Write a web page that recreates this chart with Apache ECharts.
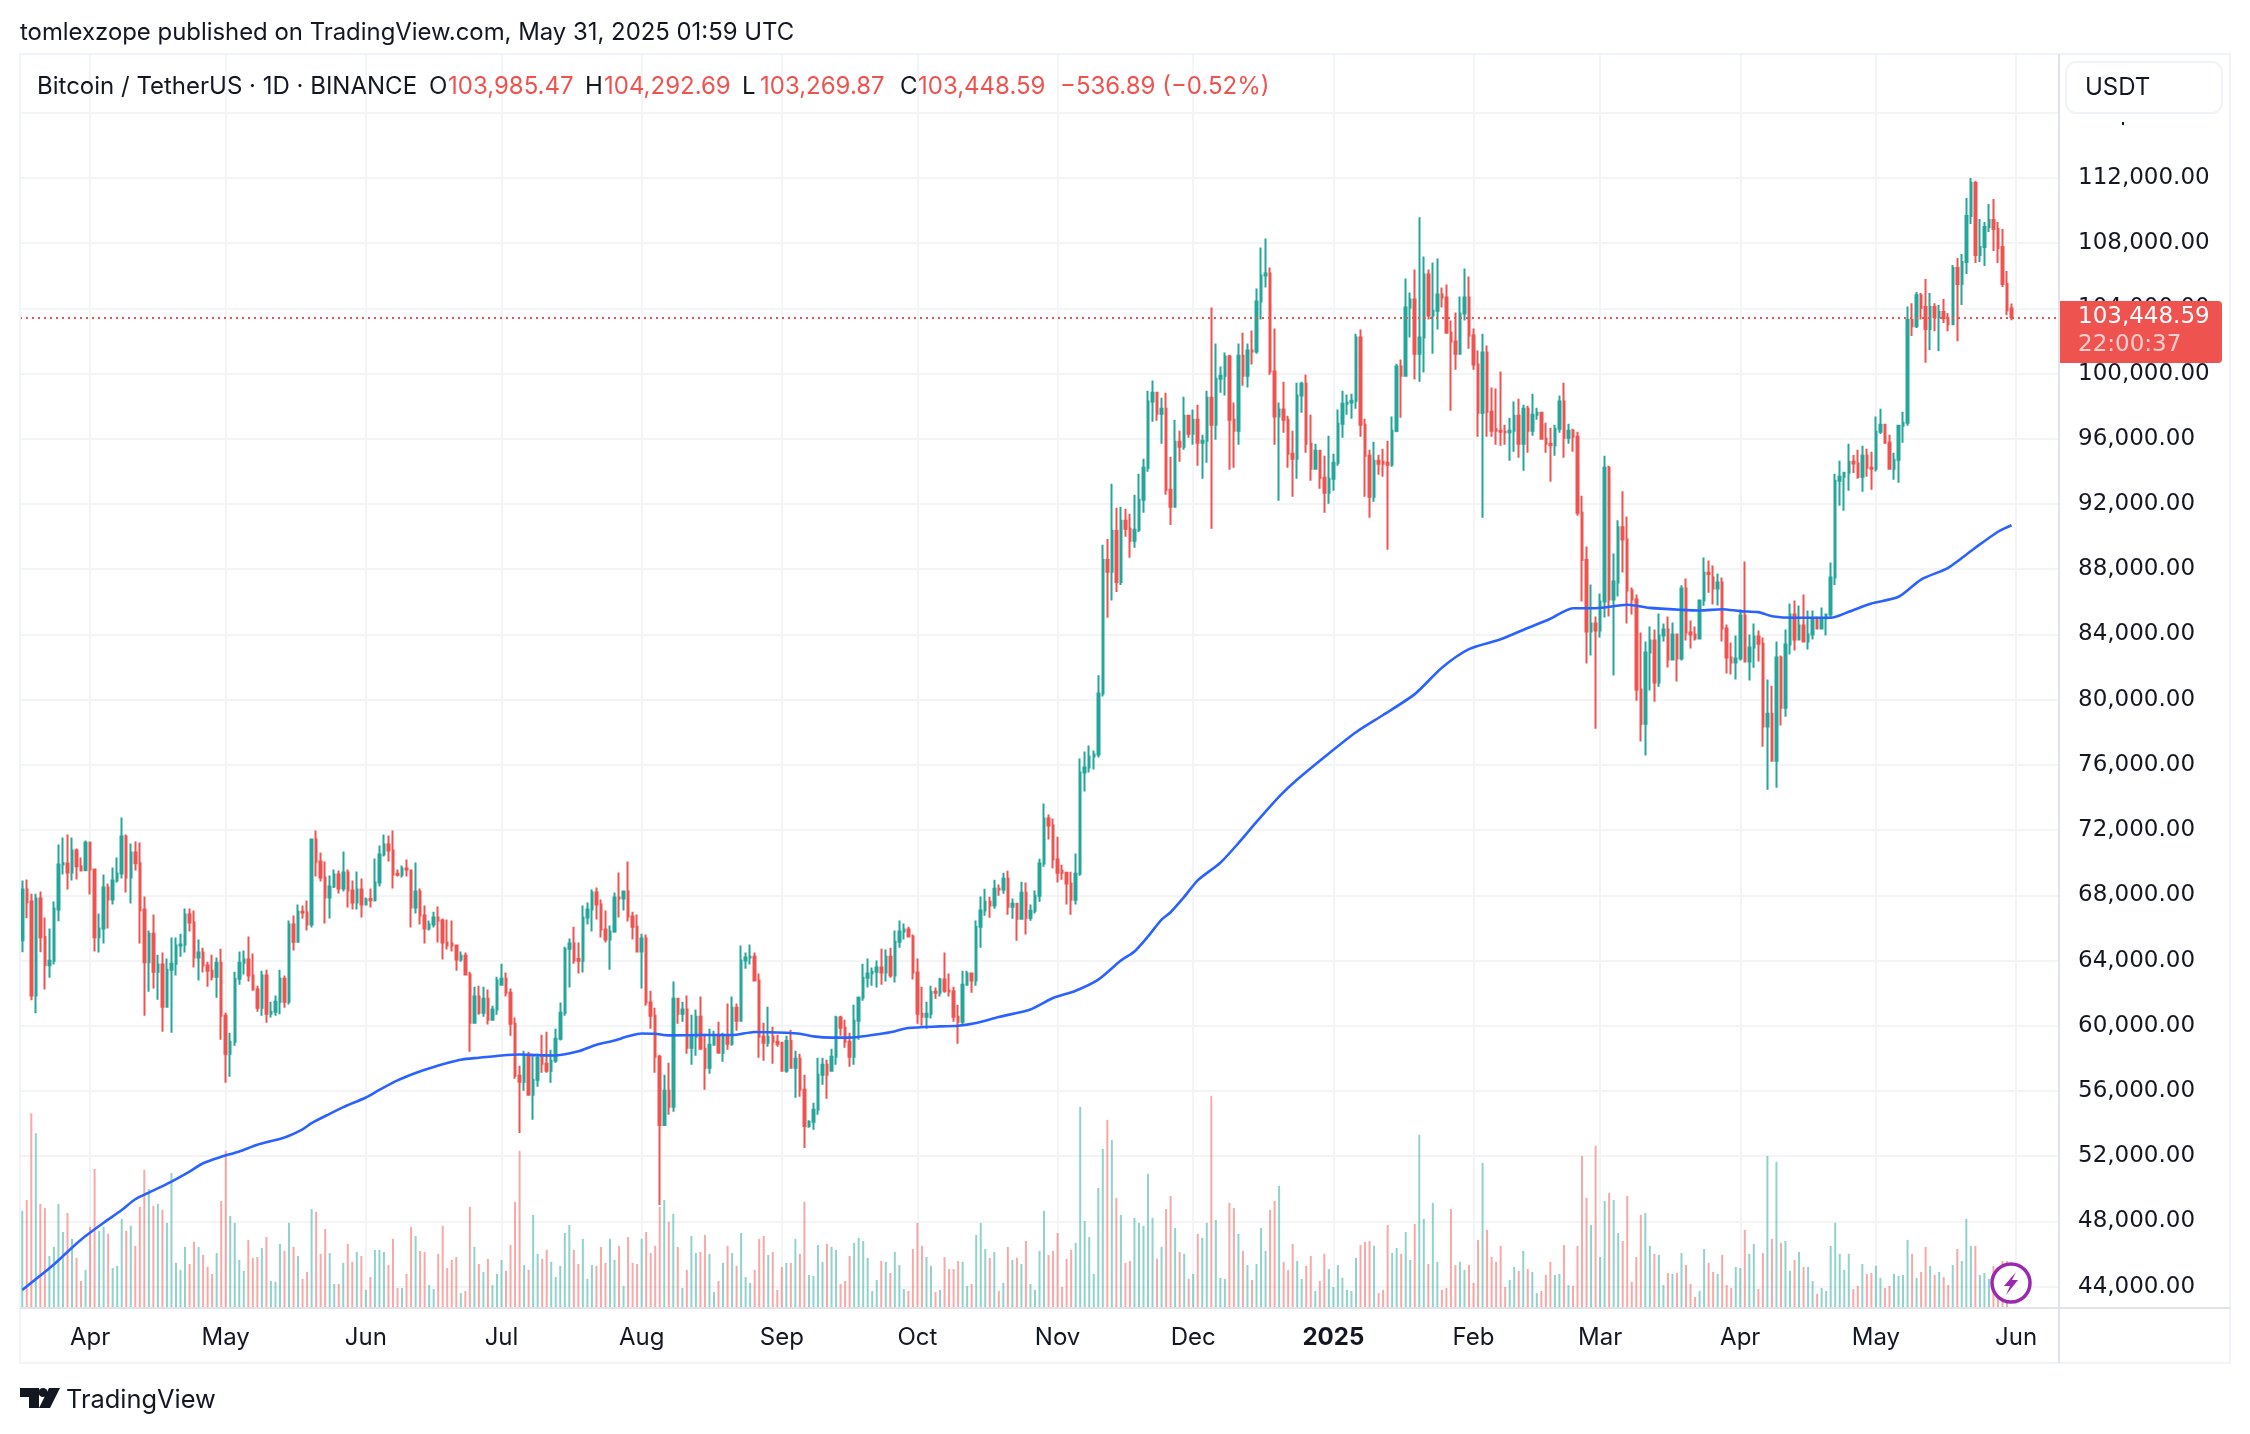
<!DOCTYPE html>
<html>
<head>
<meta charset="utf-8">
<title>BTCUSDT 1D</title>
<script src="https://cdn.jsdelivr.net/npm/echarts@6/dist/echarts.min.js"></script>
<style>
html,body{margin:0;padding:0;background:#fff}
#main{width:2250px;height:1434px}
</style>
</head>
<body>
<div id="main"></div>
<script>
var startDay = Date.UTC(2024, 2, 17);
var dayCount = 451; // 441 candles, then the empty days up to the price scale

// one row per day, from 2024-03-17: open, close, low, high
var ohlc = [
[65250,68360,64510,68910],[68360,67580,66600,68970],[67620,61850,61560,68090],[61850,67800,60760,68090],[67800,65430,64510,68230],[65450,63710,62220,66640],[63710,63980,62950,65960],[63980,67190,63750,67620],[67130,69890,66410,71120],[69890,69990,69280,71550],
[69950,69400,68360,71730],[69400,70750,68910,71550],[70750,69790,68970,70870],[69790,69520,69500,70320],[69540,71220,69500,71370],[71220,69580,68050,71300],[69580,65430,64550,69650],[65430,65960,64490,66880],[65960,68480,65040,69280],[68480,67740,65960,68720],
[67740,68910,67430,69710],[68910,69340,68790,70320],[69340,71610,69030,72780],[71610,69090,68170,71730],[69090,70630,67500,71180],[70630,69970,69520,71300],[69970,67090,65040,71240],[67130,63890,60620,67930],[63890,65650,62090,65840],[65650,63320,62280,66820],
[63320,63750,61600,64360],[63750,61170,59640,64490],[61170,63440,61100,64120],[63440,63810,59570,65410],[63810,64920,63080,65410],[64920,64980,64240,65650],[64980,66820,64490,67190],[66820,66330,65780,67190],[66330,64180,63570,67070],[64180,64490,62770,65290],
[64490,63690,63260,64790],[63690,63380,62400,63930],[63380,63010,62770,64360],[63010,63870,61720,64180],[63870,60620,59140,64730],[60620,58290,56500,60800],[58290,59020,56870,59570],[59020,62890,58780,63320],[62890,63870,62520,64550],[63870,64060,63140,64610],
[64060,63080,62710,65470],[63080,62220,62150,64430],[62220,61110,60860,62460],[61110,63080,60620,63380],[63080,60740,60190,63440],[60740,60860,60500,61480],[60860,61480,60620,61850],[61480,62890,60700,63440],[62890,61480,61110,63080],[61480,66210,61300,66450],
[66210,65160,64610,66760],[65160,67000,65100,67430],[67000,66940,66580,67370],[66940,66210,65840,67680],[66210,71430,66020,71490],[71430,70080,69150,71980],[70080,69090,68850,70630],[69090,67860,66270,70080],[67860,68540,66580,69220],[68540,69280,68450,69580],
[69280,68420,68110,69520],[68420,69400,68230,70690],[69400,68300,67250,69580],[68300,67560,67130,68910],[67560,68360,67130,69460],[68360,67430,66640,69030],[67430,67740,67400,67860],[67780,67700,67250,68420],[67700,68790,67620,70260],[68790,70510,68540,71060],
[70510,71120,70380,71730],[71120,70750,70080,71670],[70750,69280,68420,71980],[69320,69260,69150,69580],[69260,69650,69090,69830],[69650,69580,69150,70200],[69520,67250,66020,69580],[67250,68230,66880,70010],[68230,66760,66210,68420],[66760,65960,65040,67370],
[65960,66210,65840,66450],[66210,66640,66020,67000],[66640,66450,65100,67310],[66450,65100,64060,66580],[65100,64920,64670,66520],[65040,64920,64550,66450],[64920,64060,63380,64980],[64060,64300,63930,64550],[64300,63140,63100,64490],[63140,60190,58410,63320],
[60190,61790,60150,62400],[61790,60800,60680,62460],[60800,61660,60560,62400],[61660,60370,60070,62220],[60370,60990,60340,61230],[60990,62770,60680,63010],[62520,62890,62460,63810],[62890,62030,61790,63260],[62030,60130,59390,62280],[60130,56930,56750,60500],
[56930,56560,53430,57550],[56560,58220,56010,58470],[58220,55770,55710,58410],[55770,56690,54230,58220],[56690,58040,56260,58290],[58040,57670,57120,59450],[57670,57240,57120,59640],[57240,57860,56500,58530],[57860,59210,57730,59820],[59210,60800,59100,61420],
[60800,64730,60620,64840],[64730,65040,62340,65350],[65040,64000,63810,66080],[64100,63980,63200,65100],[63980,66640,63260,67370],[66640,67130,66210,67560],[67130,68170,65780,68360],[68170,67430,66510,68480],[67430,65900,65410,67740],[65900,65290,65100,67070],
[65290,65780,63440,66150],[65780,67860,65700,68170],[67860,67800,66640,69400],[67800,68230,67070,68300],[68230,66700,66390,70080],[66700,66080,65290,67000],[66080,64550,64490,66820],[64550,65350,62280,65650],[65350,61420,61230,65590],[61420,60620,59820,62150],
[60620,58100,57120,61110],[58100,53920,49000,58220],[53920,56010,53900,57000],[56010,55030,54540,57730],[55030,61660,54720,62710],[61660,60740,60130,61720],[60740,60990,60250,61480],[60990,58650,58290,61850],[58650,59330,57610,60680],[59330,60560,58160,60990],
[60560,58590,58530,61790],[58590,57420,56070,59510],[57420,58840,57060,59820],[58840,59390,58780,59700],[59390,58350,58300,60250],[58350,59390,57790,59570],[59390,58900,58530,61360],[58900,61110,58780,61790],[61110,60310,59700,61360],[60310,64000,60280,64920],
[64000,64180,63500,64490],[64180,64240,63750,64980],[64240,62770,62740,64490],[62770,59330,58040,63200],[59330,58960,57860,60190],[58960,59330,58720,61170],[59330,59020,57670,59940],[59020,58900,58720,59450],[58960,57240,57180,59020],[57240,59080,57120,59390],
[59080,57420,57360,59760],[57420,57980,55580,58470],[57980,56070,55640,58290],[56070,53860,52510,57000],[53860,54110,53740,54200],[54110,54850,53620,55280],[54850,57000,54540,58040],[57000,57610,56380,58040],[57610,57000,55520,57920],[57240,58100,57200,58590],
[58100,60500,57610,60620],[60500,59880,59390,60620],[59880,59020,58650,60370],[59020,58100,57490,59570],[58100,60310,57610,61290],[60310,61720,59140,61790],[61720,62950,61540,63810],[62950,63200,62340,64120],[63200,63320,62460,63570],[63320,63570,62340,64000],
[63570,63260,62520,64730],[63260,64240,62710,64670],[64240,63080,62950,64790],[63080,65160,62650,65840],[65160,65780,64790,66450],[65780,65900,65290,66270],[65900,65470,65410,66080],[65470,63260,62830,65590],[63260,60740,60130,64120],[60740,60560,60000,62400],
[60560,60740,59820,61480],[60740,62090,60440,62460],[62090,62030,61660,62340],[62030,62830,61790,62950],[62830,62150,62030,64490],[62150,62100,61790,63200],[62100,60560,60250,62400],[60560,60250,58900,61290],[60250,62520,60000,63380],[62520,63200,62460,63380],
[63200,62770,62030,63260],[62770,66080,62460,66450],[66080,67070,64790,67930],[67070,67610,66750,68410],[67610,67370,66630,67920],[67370,68410,67180,68960],[68410,68350,67980,68660],[68350,69020,68100,69390],[69020,67300,66810,69510],[67300,67490,66570,67800],
[67490,66570,65220,67500],[66570,68160,66510,68840],[68160,66630,65590,68780],[66630,67060,66440,67430],[67060,67980,66880,68290],[67980,69950,67610,70250],[69950,72710,69760,73630],[72710,72280,71420,72950],[72280,70190,69640,72710],[70190,69390,68780,71600],
[69510,69390,68960,69880],[69390,68720,67430,69450],[68720,67730,66810,69450],[67730,69330,67430,70560],[69330,75530,69200,76390],[75530,75840,74370,76820],[75840,76520,75530,77190],[76520,76640,75720,76880],[76640,80380,76450,81490],[80380,88570,80200,89500],
[88570,87840,85030,89860],[87840,90350,86080,93240],[90350,87220,86610,91770],[87220,90970,87040,91830],[90970,90480,89990,91710],[90480,89740,88700,91400],[89740,90420,89310,92570],[90420,92260,90290,93860],[92260,94220,91460,94780],[94220,98280,93980,98950],
[98280,98830,97050,99570],[98830,97540,97110,98890],[97540,97850,95700,98520],[97850,92870,92570,98830],[92870,91830,90720,94900],[91830,95820,91770,97170],[95820,95510,94590,96500],[95510,97420,95330,98580],[97420,96310,96070,97450],[96310,97170,95640,97790],
[97170,95760,94350,98090],[95760,95880,93550,96250],[95880,98520,94530,98950],[98520,96860,90480,104050],[96860,99690,95940,101840],[99690,99870,98830,100430],[99870,101040,98650,101290],[101040,97170,94100,101160],[97170,96500,94220,98220],[96500,101100,95640,101840],
[101100,99870,99260,102510],[99870,101410,99140,101840],[101410,101350,100550,102640],[101350,104420,101220,105220],[104420,106010,103310,107730],[106010,106140,105280,108290],[106140,100120,99930,106510],[100120,97360,95640,102760],[97360,97790,92200,98220],[97790,97170,96370,99500],
[97170,95080,94220,97420],[95080,94780,92440,96500],[94780,98650,93550,99440],[98650,99380,97600,99500],[99380,95700,95140,99930],[95700,94160,93420,97480],[94160,95270,94100,95700],[95270,93610,92930,95300],[93610,92690,91460,94960],[92690,93550,92010,96190],
[93550,94530,92810,95080],[94530,96930,94350,97790],[96930,98150,96070,98950],[98150,98220,97480,98710],[98220,98340,97230,98770],[98340,102210,97850,102450],[102210,96860,96130,102700],[96860,94960,92440,97230],[94960,92440,91150,95330],[92440,94650,92140,95820],
[94650,94470,93790,95020],[94590,94470,93670,95390],[94530,94410,89190,95880],[94410,96500,94280,97360],[96500,100430,96400,100610],[100430,99870,97290,100860],[99870,104050,99850,105830],[104050,104540,102210,104970],[104540,101220,99630,106380],[101220,102210,99500,109580],
[102210,106080,100060,107180],[106080,103560,103310,106380],[103560,103860,101220,106810],[103860,104850,102700,107060],[104850,104660,104050,105280],[104660,102510,102450,105460],[102510,101960,97720,103250],[101960,101220,100240,103740],[101220,103680,101200,104720],[103680,104660,103250,106440],
[104660,102330,101530,105950],[102330,100550,100240,102760],[100550,97600,96130,101410],[97600,101290,91150,102450],[101290,97660,96130,101720],[97660,96500,96130,99140],[96600,96500,95640,99080],[96500,96430,95570,100120],[96430,96400,95640,96860],[96400,96500,94650,97290],
[96500,97420,95210,98280],[97420,95700,94840,98460],[95700,97850,94040,98090],[97850,96500,95140,98030],[96500,97480,96190,98770],[97480,97600,97170,97910],[97600,96000,95950,97660],[96000,95700,95140,96990],[95700,95600,93360,96680],[95600,96620,94960,96860],
[96620,98280,96370,98650],[98280,96070,94840,99440],[96070,96500,95700,96930],[96500,96130,95210,96620],[96130,91460,91280,96430],[91460,88570,86020,92500],[88570,84180,82220,89400],[84180,84670,82710,87070],[84670,84240,78220,85100],[84240,86020,83810,86510],
[86020,94220,85040,94960],[94220,86150,85100,94350],[86150,87250,81480,88970],[87190,90570,86330,91000],[90570,89830,87800,92780],[89830,86700,84670,91240],[86700,86150,85220,86880],[86150,80620,79940,86450],[80620,78530,77430,84120],[78530,82890,76570,83570],
[82890,83630,80560,84490],[83630,81050,79880,84300],[81050,83930,80800,85290],[83930,84300,83570,84670],[84300,82460,81970,85100],[82460,84000,82400,84730],[84000,82520,81110,84050],[82520,86820,82400,87010],[86820,84120,83630,87430],[84120,84000,83140,84860],
[84000,83750,83630,84490],[83750,86080,83700,86150],[86080,87780,85760,88720],[87780,87700,86550,88540],[87500,86820,85840,88230],[86820,87190,85780,87740],[87190,84360,83570,87500],[84360,82580,81600,84610],[82580,82280,81540,83500],[82280,82520,81230,83930],
[82520,85160,82400,85530],[85160,82340,82280,88480],[82340,83200,81170,84000],[83200,83870,81950,84670],[83870,83430,82340,84240],[83430,78350,77120,83810],[78350,79140,74480,81230],[79140,76260,76200,80860],[76260,82580,74600,83570],[82580,79510,78410,82710],
[79510,83380,78960,84300],[83380,85220,82770,85900],[85220,83690,83010,86080],[83690,84550,83630,85780],[84550,83570,83500,86450],[83570,84000,83080,85470],[84000,84920,83690,85470],[84920,84360,84300,85100],[84360,84980,84320,85650],[84980,85220,83930,85290],
[85220,87500,85050,88420],[87500,93420,87040,93860],[93420,93670,91890,94650],[93670,93920,91580,93980],[93920,94590,92810,95700],[94590,94490,93900,95000],[94490,93670,93550,95330],[93670,94960,92750,95570],[94960,94220,93670,95390],[94220,94160,92870,95210],
[94160,96430,94000,97360],[96430,96860,96300,97850],[96860,95760,95700,96900],[95760,94160,94100,96250],[94160,94710,93490,95140],[94710,96800,93300,96860],[96800,96990,95760,97660],[96990,103280,96800,104110],[103280,102910,102300,104320],[102910,104810,102790,105000],
[104810,104020,103310,104940],[104080,102730,100670,105800],[102730,104080,101440,104940],[104080,103460,102600,104320],[103460,103770,101380,104200],[103770,103400,103100,104570],[103400,103030,102600,103710],[103030,106470,103000,106660],[106470,105490,101990,107090],[105490,106840,104200,107330],
[106840,109670,106100,110770],[109670,111690,109170,112000],[111690,107270,106780,111820],[107270,107760,106840,109480],[107760,108990,106600,109300],[108990,109420,108680,110400],[109420,108870,107520,110710],[108870,107700,106780,109300],[107760,105490,105310,108870],[105490,103890,103590,106290],
[103985.47,103448.59,103269.87,104292.69]
];

// traded volume per day, thousand BTC
var volumes = [
36.4,40.5,73,65.5,39,37.5,19.5,22.9,39,28.5,35.6,25.9,18.8,10.1,14.3,30.4,52.1,28.9,30.4,27.8,
15,15.8,33.4,28.9,30.8,23.3,37.9,51.8,44.6,38.3,39,36.8,31.9,50.6,16.9,14.3,22.9,16.5,24.8,22.9,
19.9,15.4,12.8,20.6,40.1,58.9,34.5,31.9,18,13.9,25.5,18.8,19.1,22.5,26.6,10.1,9.8,24,21.4,31.9,
22.9,19.5,10.9,13.5,37.1,36,20.3,29.6,20.6,9,9,16.9,24,17.3,21,19.5,6.8,11.6,21.8,21.8,
21,16.1,25.9,7.5,7.5,12.8,30.4,27,21.4,21,8.6,7.1,20.3,30.8,15,18,19.1,5.6,6.4,37.9,
22.9,16.5,13.5,18.4,8.6,12.8,18,13.9,23.6,39.8,58.9,16.1,14.3,34.9,20.3,18.4,21.8,17.3,11.6,15.8,
28.1,31.1,21.8,16.5,25.9,10.9,16.1,15.8,22.9,16.9,25.9,18,23.3,8.3,26.6,16.9,16.5,25.9,28.5,20.6,
23.3,37.9,40.5,32.3,35.3,22.9,7.5,14.3,27,20.6,21,27.4,20.3,6,10.1,16.9,23.3,20.6,15.8,28.1,
11.6,9.4,14.3,25.9,27,19.9,21,6.8,15.4,16.9,16.9,25.9,20.3,39.8,12.4,12,23.6,17.3,24,22.9,
21.8,9,10.1,19.5,24.4,26.3,25.1,18.8,6.4,10.5,17.6,17.3,13.1,21,16.1,7.1,6.4,22.1,31.9,23.3,
19.1,15.8,6,6.8,19.1,14.6,14.6,17.6,17.3,8.3,9,27.4,31.9,22.1,18.8,21,6.4,9.4,22.9,18,
18.8,16.5,25.1,9,6.8,21.4,36.4,19.9,21.4,28.1,7.9,18.4,21.8,24.4,75.4,32.6,26.6,12.8,45,59.6,
70.5,63,41.3,34.9,16.9,17.6,33.8,31.9,30.8,50.3,33.8,18.4,22.9,37.1,42,30,21,20.3,10.9,12.8,
27.8,26.3,31.9,79.5,33,11.3,10.9,39.4,37.5,27.8,21.4,16.1,10.5,16.5,30,21.4,36.8,40.1,45.8,17.3,
14.3,24,17.6,10.9,15.8,19.5,6.4,10.1,20.3,14.6,7.9,16.1,11.3,6.8,6.4,18.8,23.6,24.8,25.1,23.3,
5.6,6.8,31.1,20.6,22.5,20.3,28.5,18,31.5,64.9,33.4,16.5,39.4,17.3,6.8,7.5,37.1,16.1,17.3,14.3,
16.1,9.4,25.5,54.4,29.3,19.1,17.3,23.3,7.9,10.5,15.4,13.9,21.4,14.6,13.5,5.6,6.4,12.4,17.3,12.4,
12.8,23.6,8.6,8.3,23.3,57,41.3,31.1,60.8,19.1,40.1,43.1,40.5,28.1,25.1,42,9.8,19.1,34.9,35.6,
23.3,20.3,19.9,8.6,13.1,12.8,13.1,20.6,16.1,9,4.1,6.4,22.1,16.9,13.5,12.8,19.9,8.6,7.5,15.4,
15,29.3,20.3,24,7.1,20.6,57,25.9,54.8,24.4,25.1,13.9,18,21,15.4,15.4,10.1,5.3,7.5,6.4,
23.3,31.9,20.3,14.3,20.3,7.1,8.3,16.5,12.8,13.1,15.8,11.3,7.5,8.3,12.8,12,12.4,25.5,20.3,11.3,
13.5,22.9,15.8,12.4,13.5,11.6,8.6,16.1,22.1,17.6,33.4,23.3,23.3,12.4,13.1,10.9,15.8,10.1,17.6,17.6,0.4
];

// moving average read at these day numbers (day 0 = 2024-03-17)
var maDays = [0,7,11,14,18,22,25,28,32,37,40,44,48,52,58,62,64,68,71,76,79,83,87,91,94,97,101,106,110,114,118,123,127,131,134,137,140,143,150,157,162,169,172,175,179,183,188,192,196,203,207,211,216,223,228,233,238,243,246,249,252,254,257,260,265,269,273,278,282,289,295,301,308,314,320,327,333,338,343,348,355,360,367,371,376,380,384,387,392,400,404,409,415,420,426,432,437,440];
var maValues = [43800,45360,46390,47100,47920,48700,49360,49770,50300,51060,51570,51960,52290,52700,53150,53650,54030,54600,55010,55600,56070,56650,57100,57470,57710,57920,58040,58180,58240,58200,58180,58430,58840,59100,59350,59530,59510,59410,59430,59430,59620,59570,59510,59350,59270,59270,59430,59600,59860,59960,60000,60170,60540,61000,61700,62150,62830,64000,64560,65480,66510,66960,67900,68920,70000,71200,72500,74050,75100,76700,78000,79060,80340,81960,83100,83700,84400,84960,85610,85610,85820,85630,85510,85470,85550,85430,85370,85120,85020,85020,85390,85900,86310,87370,88090,89320,90300,90700];

var priceTicks = [44000,48000,52000,56000,60000,64000,68000,72000,76000,80000,84000,88000,92000,96000,100000,104000,108000,112000];
var monthTicks = ['2024-04-01','2024-05-01','2024-06-01','2024-07-01','2024-08-01','2024-09-01','2024-10-01','2024-11-01','2024-12-01','2025-01-01','2025-02-01','2025-03-01','2025-04-01','2025-05-01','2025-06-01'];
var monthLabels = ['Apr','May','Jun','Jul','Aug','Sep','Oct','Nov','Dec','2025','Feb','Mar','Apr','May','Jun'];
var lastPrice = 103448.59;

var UP = '#26a69a', DOWN = '#ef5350', INK = '#131722', GRID = '#f3f4f6', FONT = 'Inter', SCALE_FONT = '"DejaVu Sans"';

var categories = [];
for (var i = 0; i < dayCount; i++) {
	categories.push(new Date(startDay + i * 86400000).toISOString().slice(0, 10));
}

var volumeBars = volumes.map(function (v, i) {
	var up = ohlc[i][1] >= ohlc[i][0];
	return { value: v, itemStyle: { color: up ? 'rgba(38,166,154,0.5)' : 'rgba(239,83,80,0.5)' } };
});
var maLine = maDays.map(function (d, i) { return [categories[d], maValues[i]]; });

function isMonth(idx, val) { return monthTicks.indexOf(val) >= 0; }

function headerText(x, text, color) {
	return { type: 'text', z: 100, style: { x: x, y: 87, text: text, fill: color, font: '24px ' + FONT, verticalAlign: 'middle' } };
}

var chart = echarts.init(document.getElementById('main'));
chart.setOption({
	animation: false,
	backgroundColor: '#fff',
	grid: { left: 20, right: 191, top: 54, bottom: 126 },
	xAxis: {
		type: 'category',
		data: categories,
		axisLine: { show: false },
		axisTick: { show: false },
		splitLine: { show: true, interval: isMonth, alignWithLabel: true, lineStyle: { color: GRID, width: 2 } },
		axisLabel: {
			interval: isMonth,
			margin: 18,
			color: INK,
			fontFamily: FONT,
			fontSize: 24,
			hideOverlap: false,
			formatter: function (val) {
				var label = monthLabels[monthTicks.indexOf(val)];
				return label === '2025' ? '{year|2025}' : label;
			},
			rich: { year: { fontWeight: 'bold', fontSize: 24, fontFamily: FONT, color: INK } }
		}
	},
	yAxis: [{
		type: 'value',
		position: 'right',
		min: 42690,
		max: 119600,
		axisLine: { show: true, lineStyle: { color: '#e0e3eb', width: 2 } },
		axisTick: { show: false, customValues: priceTicks.concat([116000]) },
		splitLine: { show: true, lineStyle: { color: GRID, width: 2 } },
		axisLabel: {
			customValues: priceTicks,
			margin: 19,
			align: 'left',
			color: INK,
			fontFamily: SCALE_FONT,
			fontSize: 23,
			padding: [2, 0, 0, 0],
			formatter: function (v) {
				return v.toLocaleString('en-US', { minimumFractionDigits: 2, maximumFractionDigits: 2 });
			}
		}
	}, {
		type: 'value',
		show: false,
		min: 0,
		max: 470,
		splitLine: { show: false }
	}],
	series: [{
		name: 'Volume',
		type: 'bar',
		yAxisIndex: 1,
		barWidth: 2,
		z: 1,
		data: volumeBars
	}, {
		name: 'BTCUSDT',
		type: 'candlestick',
		z: 3,
		barWidth: 2,
		itemStyle: { color: UP, color0: DOWN, borderColor: UP, borderColor0: DOWN, borderWidth: 2 },
		data: ohlc,
		markLine: {
			silent: true,
			symbol: 'none',
			label: { show: false },
			lineStyle: { color: DOWN, width: 2, type: [2, 4] },
			data: [{ yAxis: lastPrice }]
		}
	}, {
		name: 'MA',
		type: 'line',
		z: 4,
		showSymbol: false,
		smooth: 0.25,
		lineStyle: { color: '#2962ff', width: 2.6 },
		data: maLine
	}],
	graphic: [
		{ type: 'rect', z: 90, shape: { x: 20, y: 54, width: 2210, height: 1309 }, style: { fill: 'none', stroke: '#f0f3fa', lineWidth: 2 } },
		{ type: 'line', z: 90, shape: { x1: 20, y1: 1308, x2: 2230, y2: 1308 }, style: { stroke: '#e0e3eb', lineWidth: 2 } },
		{ type: 'line', z: 90, shape: { x1: 2059, y1: 54, x2: 2059, y2: 1363 }, style: { stroke: '#e0e3eb', lineWidth: 2 } },
		{ type: 'text', z: 100, style: { x: 20, y: 33, text: 'tomlexzope published on TradingView.com, May 31, 2025 01:59 UTC', fill: INK, font: '23.9px ' + FONT, verticalAlign: 'middle' } },
		headerText(37, 'Bitcoin / TetherUS · 1D · BINANCE', INK),
		headerText(429, 'O', INK), headerText(448, '103,985.47', DOWN),
		headerText(585, 'H', INK), headerText(604, '104,292.69', DOWN),
		headerText(742, 'L', INK), headerText(760, '103,269.87', DOWN),
		headerText(900, 'C', INK), headerText(918, '103,448.59', DOWN),
		headerText(1060, '−536.89 (−0.52%)', DOWN),
		{ type: 'rect', z: 100, shape: { x: 2066, y: 62, width: 156, height: 51, r: 10 }, style: { fill: '#fff', stroke: '#f0f3fa', lineWidth: 2 } },
		{ type: 'text', z: 101, style: { x: 2085, y: 88, text: 'USDT', fill: INK, font: '24px ' + FONT, verticalAlign: 'middle' } },
		{ type: 'rect', z: 100, shape: { x: 2122, y: 122, width: 2, height: 3 }, style: { fill: INK } },
		{ type: 'rect', z: 100, shape: { x: 2060, y: 301, width: 162, height: 62, r: [0, 4, 4, 0] }, style: { fill: DOWN } },
		{ type: 'text', z: 101, style: { x: 2078, y: 317, text: '103,448.59', fill: '#fff', font: '23px ' + SCALE_FONT, verticalAlign: 'middle' } },
		{ type: 'text', z: 101, style: { x: 2078, y: 345, text: '22:00:37', fill: '#fbcdcc', font: '23px ' + SCALE_FONT, verticalAlign: 'middle' } },
		{ type: 'circle', z: 100, shape: { cx: 2011, cy: 1283, r: 19 }, style: { fill: '#fff', stroke: '#9c27b0', lineWidth: 3.5 } },
		{ type: 'polygon', z: 101, shape: { points: [[2016, 1272], [2004, 1286], [2010, 1286], [2006, 1295], [2018, 1280], [2012, 1280]] }, style: { fill: '#9c27b0' } },
		// logo
		{ type: 'polygon', z: 100, shape: { points: [[20, 1388], [39, 1388], [39, 1408], [29, 1408], [29, 1397], [20, 1397]] }, style: { fill: INK } },
		{ type: 'circle', z: 100, shape: { cx: 43, cy: 1392.5, r: 4.5 }, style: { fill: INK } },
		{ type: 'polygon', z: 100, shape: { points: [[49, 1388], [60, 1388], [50, 1408], [39, 1408]] }, style: { fill: INK } },
		{ type: 'text', z: 100, style: { x: 66, y: 1400, text: 'TradingView', fill: INK, font: '25.4px ' + FONT, verticalAlign: 'middle' } }
	]
});
</script>
</body>
</html>
